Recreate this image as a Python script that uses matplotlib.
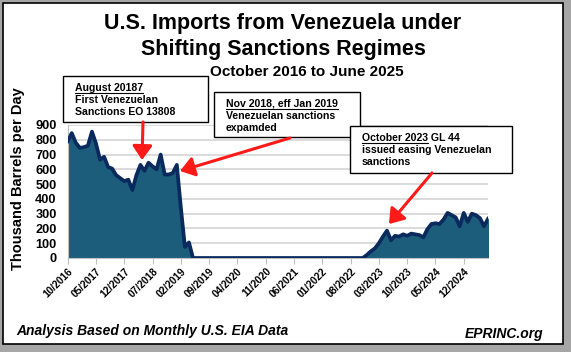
from matplotlib import pyplot as plt
from matplotlib.patches import Rectangle, FancyArrowPatch
import numpy as np

# monthly imports, thousand b/d, Oct 2016 .. Jun 2025
early = [790, 845, 780, 745, 750, 760, 855, 775, 665, 685,
         615, 605, 560, 540, 520, 530, 460, 560, 630, 590,
         645, 620, 600, 700, 565, 565, 575, 630, 340, 75,
         105, 0]
late = [20, 45, 65, 100, 145, 185, 120, 150, 145, 160,
        150, 165, 160, 155, 140, 195, 230, 235, 230, 260,
        305, 290, 275, 215, 305, 245, 300, 290, 270, 215,
        265]
gap_zeros = 74 - len(early)
imports = early + [0] * gap_zeros + late

tick_labels = ['10/2016', '05/2017', '12/2017', '07/2018', '02/2019',
               '09/2019', '04/2020', '11/2020', '06/2021', '01/2022',
               '08/2022', '03/2023', '10/2023', '05/2024', '12/2024']
y_ticks = [0, 100, 200, 300, 400, 500, 600, 700, 800, 900]

W, H = 571, 352
fig = plt.figure(figsize=(W / 100, H / 100), dpi=100)
fig.patch.set_facecolor('#a6a6a6')

def fx(px):
    return px / W

def fy(py):
    return 1 - py / H

# white panel with border
fig.patches.append(Rectangle((fx(3), fy(344)), fx(560), 341 / H,
                             transform=fig.transFigure, facecolor='white',
                             edgecolor='black', linewidth=1.2, zorder=-1))

ax = fig.add_axes([fx(67.7), fy(258), fx(420.3), 133 / H])
ax.set_zorder(1)
ax.patch.set_alpha(0)
x = np.arange(len(imports))
ax.fill_between(x, imports, 0, color='#1b5d7b', zorder=2)
ax.plot(x, imports, color='#0a2a5e', lw=2.7, zorder=3, solid_joinstyle='round')
ax.set_xlim(0, len(imports) - 1)
ax.set_ylim(0, 900)
ax.set_yticks(y_ticks)
ax.set_yticklabels([str(v) for v in y_ticks], fontsize=9.2, fontweight='bold',
                   family='Liberation Sans')
ax.set_xticks(np.arange(0, 7 * len(tick_labels), 7))
ax.set_xticklabels(tick_labels, rotation=45, ha='right', rotation_mode='anchor',
                   fontsize=7.4, fontweight='bold', family='Liberation Sans')
ax.grid(axis='y', color='#d4d4d4', lw=1.2, zorder=0)
ax.set_axisbelow(True)
for s in ['top', 'right']:
    ax.spines[s].set_visible(False)
ax.spines['left'].set_color('#bfbfbf')
ax.spines['bottom'].set_color('#bfbfbf')
ax.tick_params(axis='y', length=0, pad=8)
ax.tick_params(axis='x', length=4, color='#bfbfbf', pad=2)
ax.set_ylabel('Thousand Barrels per Day', fontsize=10.5, fontweight='bold',
              family='Liberation Sans')
ax.yaxis.set_label_coords(-0.102, 0.6)

tf = dict(family='Liberation Sans', fontweight='bold', transform=fig.transFigure)
fig.text(fx(283), fy(24), 'U.S. Imports from Venezuela under', fontsize=15.5,
         ha='center', va='center', **tf)
fig.text(fx(283), fy(50), 'Shifting Sanctions Regimes', fontsize=15.5,
         ha='center', va='center', **tf)
fig.text(fx(307), fy(72), 'October 2016 to June 2025', fontsize=11,
         ha='center', va='center', **tf)

# annotation boxes: x, y, w, h, first text line y
boxes = [
    (63, 76, 145, 46, 88, ['August 20187', 'First Venezuelan', 'Sanctions EO 13808'], ''),
    (214, 92, 146, 45, 104, ['Nov 2018, eff Jan 2019', 'Venezuelan sanctions', 'expamded'], ''),
    (350, 126, 162, 47, 138, ['October 2023', 'issued easing Venezuelan', 'sanctions'], ' GL 44'),
]
fig.canvas.draw()
for bx, by, bw, bh, top, lines, extra in boxes:
    fig.patches.append(Rectangle((fx(bx), fy(by + bh)), fx(bw), bh / H,
                                 transform=fig.transFigure, facecolor='white',
                                 edgecolor='black', lw=1.0, zorder=5))
    for k, line in enumerate(lines):
        t = fig.text(fx(bx + 12), fy(top + k * 12.2), line, fontsize=7.6,
                     va='center', ha='left', zorder=6, **tf)
        if k == 0:
            bb = t.get_window_extent(renderer=fig.canvas.get_renderer())
            fig.add_artist(plt.Line2D([bb.x0 / W, bb.x1 / W],
                                      [fy(top + 5), fy(top + 5)],
                                      transform=fig.transFigure, color='black',
                                      lw=0.8, zorder=6))
            if extra:
                fig.text(bb.x1 / W, fy(top), extra, fontsize=7.6, va='center',
                         ha='left', zorder=6, **tf)

# red arrows
arrows = [((143, 122), (142, 160)), ((290, 138), (180, 171)), ((432, 173), (389, 224))]
for (x0, y0), (x1, y1) in arrows:
    fig.add_artist(FancyArrowPatch(
        (fx(x0), fy(y0)), (fx(x1), fy(y1)), transform=fig.transFigure,
        arrowstyle='-|>,head_length=5,head_width=3.5', color='#ff1a1a',
        lw=2.2, mutation_scale=1.7, zorder=7, shrinkA=0, shrinkB=0))

bi = dict(family='Liberation Sans', fontweight='bold', style='italic',
          transform=fig.transFigure)
fig.text(fx(16), fy(331), 'Analysis Based on Monthly U.S. EIA Data', fontsize=10,
         ha='left', va='center', **bi)
fig.text(fx(543), fy(334), 'EPRINC.org', fontsize=10, ha='right', va='center', **bi)

fig.savefig('out.png', dpi=100, facecolor=fig.get_facecolor())
